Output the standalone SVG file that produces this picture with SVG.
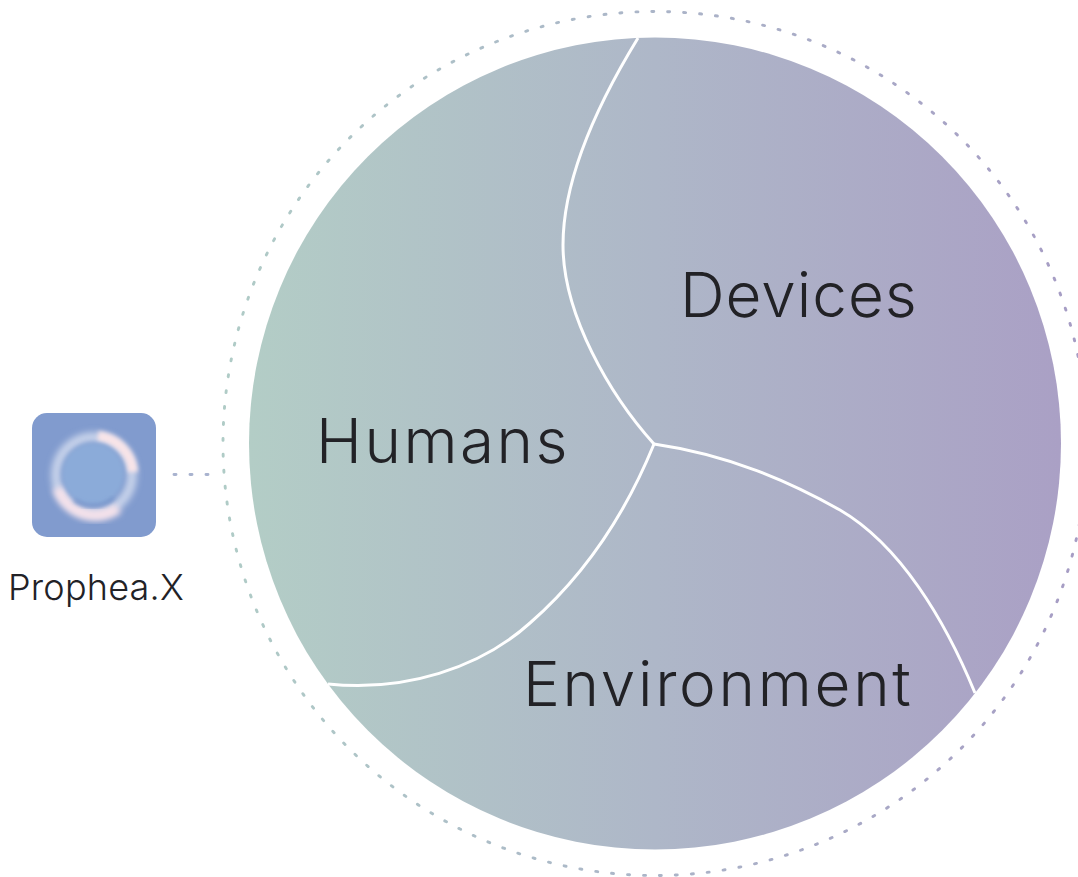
<svg xmlns="http://www.w3.org/2000/svg" width="1078" height="877" viewBox="0 0 1078 877">
<style>
.lbl{font-family:"Inter","Noto Sans","Liberation Sans",sans-serif;font-weight:300;fill:#222226}
.big{font-size:62px}
.div{fill:none;stroke:#fff;stroke-width:3}
.dot{fill:none;stroke-width:2.9;stroke-linecap:round;stroke-dasharray:2 14}
</style>
<defs>
<linearGradient id="g" gradientUnits="userSpaceOnUse" x1="249" y1="0" x2="1061" y2="0">
<stop offset="0" stop-color="#b3cdc6"/><stop offset="0.5" stop-color="#aeb7c8"/><stop offset="1" stop-color="#aaa0c5"/>
</linearGradient>
<linearGradient id="gd" gradientUnits="userSpaceOnUse" x1="172" y1="0" x2="1087" y2="0">
<stop offset="0" stop-color="#b0cec6"/><stop offset="0.5" stop-color="#abb6c8"/><stop offset="1" stop-color="#a69cc4"/>
</linearGradient>
<filter id="b3" x="-30%" y="-30%" width="160%" height="160%"><feGaussianBlur stdDeviation="3"/></filter>
<filter id="b2" x="-30%" y="-30%" width="160%" height="160%"><feGaussianBlur stdDeviation="2"/></filter>
<clipPath id="ic"><rect x="32" y="413" width="124" height="124" rx="15"/></clipPath>
</defs>
<rect width="1078" height="877" fill="#fff"/>
<g id="connectors">
<circle class="dot" cx="655" cy="443.5" r="432" stroke="url(#gd)"/>
<line class="dot" x1="174" y1="474.5" x2="208" y2="474.5" stroke="#a9b3cf"/>
</g>
<g id="sphere">
<circle cx="655" cy="443.5" r="406" fill="url(#g)"/>
<path class="div" d="M638 38C600 100 563 175 563 245C563 315 610 395 654 444"/>
<path class="div" d="M654 444C730 455 790 482 840 510C900 545 945 620 975 693"/>
<path class="div" d="M654 444C625 515 585 575 530 623C480 668 405 692 328 684"/>
</g>
<g id="humans"><text class="lbl big" x="316" y="463" letter-spacing="2.5">Humans</text></g>
<g id="devices"><text class="lbl big" x="680" y="317" letter-spacing="1">Devices</text></g>
<g id="environment"><text class="lbl big" x="523" y="706" letter-spacing="2.7">Environment</text></g>
<g id="prophea">
<rect x="32" y="413" width="124" height="124" rx="15" fill="#819bce"/>
<g clip-path="url(#ic)">
<circle cx="94" cy="475" r="38" fill="none" stroke="#c6d2ea" stroke-width="10" filter="url(#b3)"/>
<path d="M58 488A39 39 0 0 0 118 508" fill="none" stroke="#f6e2ea" stroke-width="11" filter="url(#b3)"/>
<path d="M98 436A39 39 0 0 1 133 472" fill="none" stroke="#f8e4e8" stroke-width="10" filter="url(#b2)"/>
<circle cx="93" cy="474" r="31" fill="#8babd9" filter="url(#b2)"/>
<path d="M74 500A31 31 0 0 0 114 498" fill="none" stroke="#6f8fc8" stroke-width="3" filter="url(#b2)"/>
</g>
<text class="lbl" x="8" y="600" font-size="36" letter-spacing="0.2">Prophea.X</text>
</g>
</svg>
